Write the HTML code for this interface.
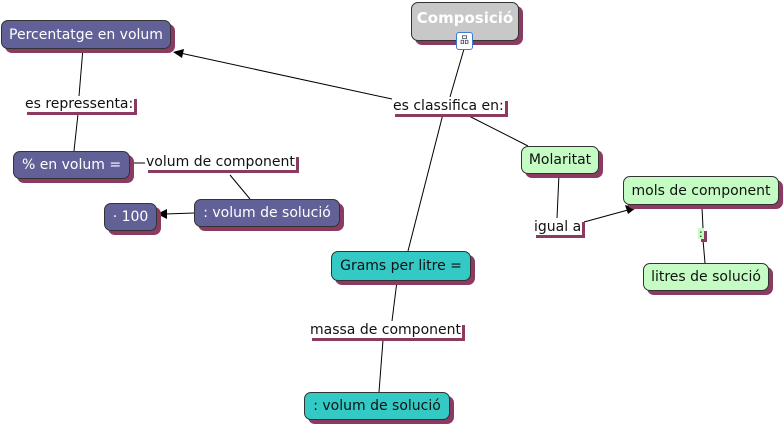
<!DOCTYPE html><html><head><meta charset="utf-8"><style>
body{margin:0;width:784px;height:425px;background:#fff;position:relative;overflow:hidden;font-family:Verdana,"DejaVu Sans",sans-serif;font-size:14px}
.n{position:absolute;box-sizing:border-box;border:1px solid #333;border-radius:7px;box-shadow:4px 4px 0 #8b3a62;display:flex;align-items:center;justify-content:center;white-space:nowrap}
.p{background:#616198;color:#fff}
.g{background:#c4fcc4;color:#111}
.t{background:#33c9c4;color:#111}
.l{position:absolute;background:#fff;box-shadow:3px 3px 0 #8b3a62;color:#111;white-space:nowrap;line-height:16px;padding:0 1px}
svg{position:absolute;left:0;top:0}
</style></head><body>
<svg width="784" height="425"><g stroke="#000" stroke-width="1" fill="none">
<line x1="464" y1="49" x2="450" y2="97"/>
<line x1="443" y1="114" x2="408" y2="251"/>
<line x1="392" y1="99" x2="180" y2="53"/>
<line x1="467" y1="115" x2="528" y2="146"/>
<line x1="83" y1="48" x2="79" y2="96"/>
<line x1="78" y1="114" x2="74" y2="151"/>
<line x1="130" y1="163" x2="145" y2="163"/>
<line x1="230" y1="175" x2="250" y2="199"/>
<line x1="194" y1="213" x2="165" y2="214"/>
<line x1="559" y1="174" x2="557" y2="218"/>
<line x1="584" y1="222" x2="628" y2="210"/>
<line x1="702" y1="208" x2="703" y2="228"/>
<line x1="703" y1="240" x2="705" y2="263"/>
<line x1="397" y1="281" x2="392" y2="321"/>
<line x1="383" y1="340" x2="379" y2="392"/>
</g><g fill="#000">
<polygon points="173,52 184,49 182,58"/>
<polygon points="157,214 167,209 167,219"/>
<polygon points="636,208 625,205 628,214"/>
</g></svg>
<div class="n p" style="left:1px;top:20px;width:170px;height:29px;font-size:14px">Percentatge en volum</div>
<div class="n" style="left:411px;top:2px;width:108px;height:39px;background:#c8c8c8;color:#fff;font-weight:bold;font-size:15px;font-family:'Comic Sans MS','DejaVu Sans',sans-serif;align-items:flex-start;padding-top:6px">Composició</div>
<div style="position:absolute;left:456px;top:32px;width:15px;height:16px;border:1px solid #3b7ad8;border-radius:3px;background:#fff;font-size:9px;line-height:16px;text-align:center;color:#224">品</div>
<div class="l" style="left:392px;top:98px">es classifica en:</div>
<div class="l" style="left:24px;top:96px">es repressenta:</div>
<div class="n p" style="left:13px;top:151px;width:117px;height:28px">% en volum =</div>
<div class="l" style="left:145px;top:154px">volum de component</div>
<div class="n p" style="left:104px;top:203px;width:53px;height:28px">· 100</div>
<div class="n p" style="left:194px;top:199px;width:146px;height:28px">: volum de solució</div>
<div class="n g" style="left:521px;top:146px;width:78px;height:28px">Molaritat</div>
<div class="n g" style="left:623px;top:176px;width:156px;height:29px">mols de component</div>
<div class="l" style="left:533px;top:219px">igual a</div>
<div class="l" style="left:698px;top:228px;background:#c4fcc4;line-height:11px;font-size:11px">:</div>
<div class="n g" style="left:643px;top:263px;width:126px;height:28px">litres de solució</div>
<div class="n t" style="left:331px;top:251px;width:140px;height:30px">Grams per litre =</div>
<div class="l" style="left:309px;top:322px">massa de component</div>
<div class="n t" style="left:304px;top:392px;width:146px;height:28px">: volum de solució</div>
</body></html>
